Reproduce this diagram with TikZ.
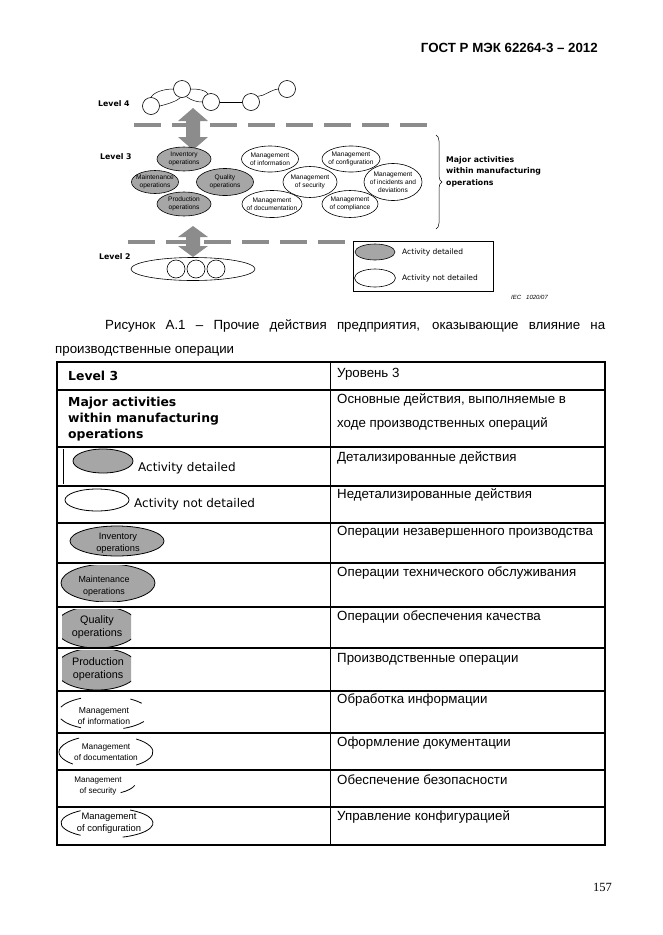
\documentclass[tikz,border=0pt]{standalone}
\usepackage{fontspec}
\setmainfont{Liberation Sans}
\newfontfamily\verdfont{DejaVu Sans}
\newfontfamily\timesfont{Liberation Serif}
\usetikzlibrary{shapes.geometric,decorations.pathreplacing}
\definecolor{actgray}{HTML}{A6A6A6}
\definecolor{dashgray}{HTML}{8C8C8C}
\def\fsz#1#2{\fontsize{#1}{#2}\selectfont}
\def\dblarrow#1#2#3#4{%
  \fill[dashgray] (#1,#2) -- (#1+15,#2+#4) -- (#1+7,#2+#4) -- (#1+7,#3-#4)
    -- (#1+15,#3-#4) -- (#1,#3) -- (#1-15,#3-#4) -- (#1-7,#3-#4)
    -- (#1-7,#2+#4) -- (#1-15,#2+#4) -- cycle;}

\begin{document}
\begin{tikzpicture}[x=1pt, y=-1pt,
    every node/.style={inner sep=0pt},
    lvl/.style={anchor=west, font=\verdfont\bfseries\fsz{7.8}{9}},
    ring/.style={circle, draw, fill=white, minimum size=17pt, line width=0.6pt},
    conn/.style={line width=0.5pt},
    detailed/.style={ellipse, draw, fill=actgray, line width=0.6pt, inner xsep=-12pt,
      minimum width=54pt, minimum height=24pt, align=center, font=\fsz{6.6}{7.8}},
    notdetailed/.style={detailed, fill=white, minimum width=57pt, minimum height=26pt},
    dashline/.style={dashgray, line width=4pt, dash pattern=on 27pt off 11pt},
    legtext/.style={anchor=west, font=\verdfont\fsz{7.5}{9}},
    rutext/.style={anchor=base west, font=\fsz{13.3}{16}},
    entext/.style={anchor=base west, font=\verdfont\fsz{12}{15}},
    croptext/.style={align=center},
    tabline/.style={line width=1.2pt}]
  \useasboundingbox (0,0) rectangle (662,935);

  \node[anchor=base east, font=\bfseries\fsz{13.3}{16}] (hdr) at (598,52) {ГОСТ Р МЭК 62264-3 – 2012};

  \node[lvl] (lv4) at (98,104) {Level 4};
  \node[ring] (l4a) at (151,106) {};
  \node[ring] (l4b) at (182,89) {};
  \node[ring] (l4c) at (211,102) {};
  \node[ring] (l4d) at (251,102) {};
  \node[ring] (l4e) at (287,89) {};
  \draw[conn] (l4a.north) .. controls (154,92) and (164,89) .. (l4b.west);
  \draw[conn] (l4a.east) .. controls (168,104) and (177,101) .. (l4b.260);
  \draw[conn] (l4b.east) .. controls (199,89) and (205,90) .. (l4c.110);
  \draw[conn] (l4b.300) .. controls (192,101) and (198,102) .. (l4c.west);
  \draw[conn] (l4c.east) -- (l4d.west);
  \draw[conn] (l4d.40) .. controls (265,96) and (270,90) .. (l4e.west);

  \draw[dashline] (134,125) -- (430,125);
  \dblarrow{193}{108}{150}{13}

  \node[lvl] (lv3) at (100,157) {Level 3};
  \node[detailed] (inv) at (184,159) {Inventory\\operations};
  \node[detailed, minimum width=47pt, minimum height=23pt] (mnt) at (155,182) {Maintenance\\operations};
  \node[detailed, minimum width=57pt, minimum height=27pt] (qual) at (225,182) {Quality\\operations};
  \node[detailed] (prod) at (184,204) {Production\\operations};
  \node[notdetailed] (info) at (270,159) {Management\\of information};
  \node[notdetailed, minimum width=58pt] (conf) at (351,159) {Management\\of configuration};
  \node[notdetailed, minimum width=60pt, minimum height=27pt] (doc) at (272,204) {Management\\of documentation};
  \node[notdetailed, minimum width=56pt, minimum height=27pt] (comp) at (350,204) {Management\\of compliance};
  \node[notdetailed, minimum width=54pt, minimum height=31pt] (sec) at (310,182) {Management\\of security};
  \node[notdetailed, minimum width=58pt, minimum height=37pt] (inc) at (393,182) {Management\\of incidents and\\deviations};

  \draw[decorate, decoration={brace, amplitude=6pt}, line width=0.5pt] (436,135) -- (436,229);
  \node[anchor=west, align=left, font=\verdfont\bfseries\fsz{7.8}{11.5}] (major) at (446,171.5) {Major activities\\within manufacturing\\operations};

  \draw[dashline] (128,242) -- (345,242);
  \dblarrow{193}{226}{257}{11}
  \node[lvl] (lv2) at (99,257) {Level 2};
  \node[ellipse, draw, line width=0.6pt, minimum width=124pt, minimum height=23pt] (pool) at (193,269) {};
  \node[ring, minimum size=18pt] (l2a) at (176,269) {};
  \node[ring, minimum size=18pt] (l2b) at (196,269) {};
  \node[ring, minimum size=18pt] (l2c) at (216,269) {};

  \draw[line width=0.6pt] (353,241) rectangle (493,291);
  \node[detailed, minimum width=40pt, minimum height=16pt] (keyd) at (375,252) {};
  \node[notdetailed, minimum width=41pt, minimum height=18pt] (keyn) at (375,278) {};
  \node[legtext] (keydt) at (402,252) {Activity detailed};
  \node[legtext] (keynt) at (402,278) {Activity not detailed};

  \node[anchor=west, font=\itshape\fsz{6}{7}] (iec) at (511,297) {IEC\hspace{5pt}1020/07};

  \node[anchor=base west, font=\fsz{13.3}{16}] (cap1) at (105,329.5) {\makebox[500pt][s]{Рисунок А.1 – Прочие действия предприятия, оказывающие влияние на}};
  \node[anchor=base west, font=\fsz{13.3}{16}] (cap2) at (55,353.5) {производственные операции};

  \node[entext, font=\verdfont\bfseries\fsz{12.4}{16}] (en1) at (68,380) {Level 3};
  \node[anchor=west, align=left, font=\verdfont\bfseries\fsz{12.4}{15.8}] (en2) at (68,419) {Major activities\\within manufacturing\\operations};
  \draw[line width=0.8pt] (63,449) -- (63,484);
  \draw[fill=actgray, line width=0.8pt] (103,461) ellipse [x radius=30, y radius=12];
  \node[entext] (en3) at (138,471) {Activity detailed};
  \draw[line width=0.8pt] (97,500) ellipse [x radius=32, y radius=11];
  \node[entext] (en4) at (134,507) {Activity not detailed};

  \begin{scope}
    \clip (66,524) rectangle (168,557);
    \draw[fill=actgray, line width=0.8pt] (117,541) ellipse [x radius=47, y radius=15];
  \end{scope}
  \node[croptext, font=\fsz{9.3}{12}] (en5) at (118,543) {Inventory\\operations};
  \begin{scope}
    \clip (58,565) rectangle (160,601);
    \draw[fill=actgray, line width=0.8pt] (108,583) ellipse [x radius=47, y radius=19];
  \end{scope}
  \node[croptext, font=\fsz{8.9}{11.5}] (en6) at (104,586) {Maintenance\\operations};
  \begin{scope}
    \clip (62,609) rectangle (131,646);
    \draw[fill=actgray, line width=0.8pt] (97,627) ellipse [x radius=42, y radius=21];
  \end{scope}
  \node[croptext, font=\fsz{10.8}{12.5}] (en7) at (97,627) {Quality\\operations};
  \begin{scope}
    \clip (62,650) rectangle (131,689);
    \draw[fill=actgray, line width=0.8pt] (97,669) ellipse [x radius=42, y radius=21];
  \end{scope}
  \node[croptext, font=\fsz{10.8}{12.5}] (en8) at (98,669) {Production\\operations};

  \draw[line width=0.8pt] (104,713) ++(200:46 and 17) arc [start angle=200, end angle=240, x radius=46, y radius=17];
  \draw[line width=0.8pt] (104,713) ++(120:46 and 17) arc [start angle=120, end angle=160, x radius=46, y radius=17];
  \draw[line width=0.8pt] (104,713) ++(305:46 and 17) arc [start angle=305, end angle=325, x radius=46, y radius=17];
  \draw[line width=0.8pt] (104,713) ++(30:46 and 17) arc [start angle=30, end angle=65, x radius=46, y radius=17];
  \node[croptext, font=\fsz{8.6}{10.5}] (en9) at (104,716) {Management\\of information};

  \draw[line width=0.8pt] (106,752) ++(135:47 and 17) arc [start angle=135, end angle=235, x radius=47, y radius=17];
  \draw[line width=0.8pt] (106,752) ++(-50:47 and 17) arc [start angle=-50, end angle=50, x radius=47, y radius=17];
  \node[croptext, font=\fsz{8.3}{10.5}] (en10) at (106,752) {Management\\of documentation};

  \draw[line width=0.8pt] (100,782) ++(15:36 and 13) arc [start angle=15, end angle=55, x radius=36, y radius=13];
  \node[croptext, font=\fsz{8.1}{10.5}] (en11) at (98,786) {Management\\of security};

  \draw[line width=0.8pt] (107,823) ++(125:46 and 15) arc [start angle=125, end angle=235, x radius=46, y radius=15];
  \draw[line width=0.8pt] (107,823) ++(-60:46 and 15) arc [start angle=-60, end angle=70, x radius=46, y radius=15];
  \node[croptext, font=\fsz{9.4}{11.5}] (en12) at (109,823) {Management\\of configuration};

  \node[rutext] (ru1) at (337,377) {Уровень 3};
  \node[rutext] (ru2) at (337,403) {Основные действия, выполняемые в};
  \node[rutext] (ru2b) at (337,427) {ходе производственных операций};
  \node[rutext] (ru3) at (337,461) {Детализированные действия};
  \node[rutext] (ru4) at (337,498) {Недетализированные действия};
  \node[rutext] (ru5) at (337,535) {Операции незавершенного производства};
  \node[rutext] (ru6) at (337,576) {Операции технического обслуживания};
  \node[rutext] (ru7) at (337,620) {Операции обеспечения качества};
  \node[rutext] (ru8) at (337,662) {Производственные операции};
  \node[rutext] (ru9) at (337,703) {Обработка информации};
  \node[rutext] (ru10) at (337,746) {Оформление документации};
  \node[rutext] (ru11) at (337,784) {Обеспечение безопасности};
  \node[rutext] (ru12) at (337,820) {Управление конфигурацией};

  \draw[tabline] (57,362) rectangle (605,845);
  \foreach \yy in {390,447,486,523,563,607,648,691,733,770,807}
    \draw[tabline] (57,\yy) -- (605,\yy);
  \draw[line width=0.8pt] (330,362) -- (330,845);

  \node[anchor=base east, font=\timesfont\fsz{12.5}{15}] (pgno) at (612,891) {157};
\end{tikzpicture}
\end{document}
